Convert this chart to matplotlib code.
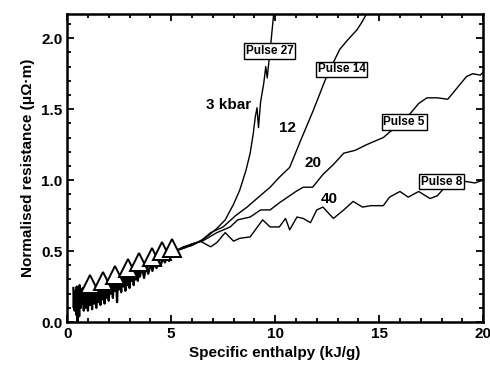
import matplotlib.pyplot as plt
from matplotlib.ticker import MultipleLocator

plt.rcParams['font.family'] = ['Liberation Sans', 'DejaVu Sans']

# low enthalpy, noisy common data (x, y)
noise_pts = [
    (0.30, 0.24), (0.32, 0.10), (0.34, 0.21), (0.36, 0.08), (0.38, 0.22),
    (0.40, 0.12), (0.42, 0.19), (0.44, 0.05), (0.46, 0.25), (0.48, 0.06),
    (0.50, 0.00), (0.52, 0.20), (0.54, 0.09), (0.56, 0.21), (0.58, 0.04),
    (0.60, 0.26), (0.62, 0.11), (0.64, 0.23), (0.66, 0.10), (0.68, 0.21),
    (0.70, 0.13), (0.75, 0.24), (0.80, 0.08), (0.85, 0.23), (0.90, 0.10),
    (0.95, 0.23), (1.00, 0.08), (1.05, 0.22), (1.10, 0.12), (1.15, 0.23),
    (1.20, 0.09), (1.25, 0.24), (1.30, 0.13), (1.35, 0.24), (1.40, 0.10),
    (1.45, 0.25), (1.50, 0.14), (1.55, 0.26), (1.60, 0.12), (1.65, 0.26),
    (1.70, 0.16), (1.75, 0.27), (1.80, 0.13), (1.85, 0.27), (1.90, 0.17),
    (1.95, 0.28), (2.00, 0.15), (2.05, 0.29), (2.10, 0.20), (2.15, 0.29),
    (2.20, 0.17), (2.25, 0.30), (2.30, 0.22), (2.35, 0.31), (2.40, 0.14),
    (2.45, 0.31), (2.50, 0.23), (2.55, 0.32), (2.60, 0.21), (2.65, 0.33),
    (2.70, 0.25), (2.75, 0.33), (2.80, 0.22), (2.85, 0.34), (2.90, 0.26),
    (2.95, 0.35), (3.00, 0.24), (3.05, 0.35), (3.10, 0.29), (3.15, 0.36),
    (3.20, 0.26), (3.25, 0.37), (3.30, 0.30), (3.35, 0.38), (3.40, 0.29),
    (3.45, 0.38), (3.50, 0.32), (3.60, 0.39), (3.70, 0.31), (3.80, 0.40),
    (3.90, 0.34), (4.00, 0.41), (4.10, 0.36), (4.20, 0.42), (4.30, 0.38),
    (4.40, 0.43), (4.50, 0.40), (4.60, 0.45), (4.70, 0.42), (4.80, 0.46),
    (4.90, 0.43), (5.00, 0.47), (5.10, 0.46), (5.20, 0.50),
]
noise_x = [p[0] for p in noise_pts]
noise_y = [p[1] for p in noise_pts]

# open triangles
tri_x = [1.10, 1.73, 2.30, 2.93, 3.47, 4.08, 4.58, 5.05]
tri_y = [0.27, 0.29, 0.33, 0.38, 0.42, 0.46, 0.50, 0.52]

# Pulse 27, 3 kbar
p27_x = [5.2, 5.6, 6.0, 6.4, 6.8, 7.2, 7.6, 8.0, 8.3, 8.6, 8.8, 8.95, 9.05,
         9.13, 9.2, 9.3, 9.45, 9.55, 9.62, 9.66, 9.75, 9.85, 9.95]
p27_y = [0.50, 0.53, 0.55, 0.57, 0.61, 0.66, 0.72, 0.83, 0.93, 1.07, 1.19,
         1.33, 1.45, 1.51, 1.37, 1.55, 1.68, 1.80, 1.72, 1.78, 1.90, 2.05, 2.20]

# Pulse 14, 12 kbar
p14_x = [5.2, 5.6, 6.0, 6.5, 6.9, 7.5, 8.1, 8.65, 9.2, 9.76, 10.2, 10.7,
         11.2, 11.83, 12.5, 13.1, 13.5, 13.94, 14.2, 14.5]
p14_y = [0.50, 0.52, 0.54, 0.58, 0.63, 0.67, 0.75, 0.81, 0.88, 0.95, 1.02,
         1.09, 1.27, 1.49, 1.74, 1.92, 1.99, 2.06, 2.12, 2.20]

# Pulse 5, 20 kbar
p5_x = [5.2, 5.6, 6.0, 6.5, 7.2, 7.84, 8.2, 8.8, 9.3, 9.76, 10.2, 10.6, 11.0,
        11.35, 11.8, 12.3, 12.8, 13.3, 13.85, 14.4, 15.2, 15.6, 16.0, 16.5,
        16.9, 17.3, 17.8, 18.3, 18.75, 19.2, 19.5, 19.86, 20.0]
p5_y = [0.50, 0.52, 0.55, 0.57, 0.63, 0.67, 0.72, 0.74, 0.79, 0.79, 0.84,
        0.88, 0.92, 0.95, 0.95, 1.04, 1.11, 1.19, 1.21, 1.25, 1.30, 1.35,
        1.41, 1.47, 1.54, 1.58, 1.58, 1.57, 1.65, 1.73, 1.75, 1.74, 1.76]

# Pulse 8, 40 kbar
p8_x = [5.2, 5.6, 6.0, 6.4, 6.9, 7.2, 7.6, 8.0, 8.3, 8.8, 9.1, 9.4, 9.76,
        10.2, 10.5, 10.7, 11.05, 11.35, 11.7, 12.0, 12.3, 12.8, 13.3, 13.75,
        14.2, 14.6, 15.2, 15.5, 16.0, 16.4, 16.9, 17.45, 17.8, 18.1, 18.4,
        19.2, 19.6, 20.0]
p8_y = [0.50, 0.53, 0.54, 0.57, 0.53, 0.56, 0.63, 0.57, 0.59, 0.60, 0.66,
        0.72, 0.67, 0.67, 0.73, 0.65, 0.74, 0.73, 0.70, 0.79, 0.81, 0.73,
        0.79, 0.85, 0.81, 0.82, 0.82, 0.88, 0.92, 0.88, 0.92, 0.87, 0.89,
        0.94, 0.99, 0.99, 0.98, 1.00]

fig = plt.figure(figsize=(4.9, 3.71), dpi=100)
ax = fig.add_axes([0.137, 0.132, 0.849, 0.830])

ax.plot(noise_x, noise_y, color='black', lw=1.6)
for xs, ys in [(p27_x, p27_y), (p14_x, p14_y), (p5_x, p5_y), (p8_x, p8_y)]:
    ax.plot(xs, ys, color='black', lw=1.0)
ax.plot(tri_x, tri_y, ls='none', marker='^', ms=13, mfc='white',
        mec='black', mew=1.4)

# pressure labels
ax.text(7.74, 1.53, '3 kbar', fontsize=11, fontweight='bold', ha='center', va='center')
ax.text(10.6, 1.37, '12', fontsize=11, fontweight='bold', ha='center', va='center')
ax.text(11.8, 1.12, '20', fontsize=11, fontweight='bold', ha='center', va='center')
ax.text(12.6, 0.87, '40', fontsize=11, fontweight='bold', ha='center', va='center')

box = dict(boxstyle='square,pad=0.15', fc='white', ec='black', lw=1)
ax.text(9.74, 1.91, 'Pulse 27', fontsize=8.5, fontweight='bold', ha='center', va='center', bbox=box)
ax.text(13.2, 1.78, 'Pulse 14', fontsize=8.5, fontweight='bold', ha='center', va='center', bbox=box)
ax.text(16.2, 1.41, 'Pulse 5', fontsize=8.5, fontweight='bold', ha='center', va='center', bbox=box)
ax.text(18.0, 0.99, 'Pulse 8', fontsize=8.5, fontweight='bold', ha='center', va='center', bbox=box)

ax.set_xlim(0, 20)
ax.set_ylim(0, 2.17)
ax.xaxis.set_major_locator(MultipleLocator(5))
ax.xaxis.set_minor_locator(MultipleLocator(1))
ax.yaxis.set_major_locator(MultipleLocator(0.5))
ax.yaxis.set_minor_locator(MultipleLocator(0.1))
ax.tick_params(which='both', direction='in', top=True, right=True,
               labelsize=11, width=1.3)
ax.tick_params(which='major', length=5)
ax.tick_params(which='minor', length=3)
for lab in ax.get_xticklabels() + ax.get_yticklabels():
    lab.set_fontweight('bold')
for s in ax.spines.values():
    s.set_linewidth(1.8)

ax.set_xlabel('Specific enthalpy (kJ/g)', fontsize=11, fontweight='bold')
ax.set_ylabel('Normalised resistance (μΩ·m)', fontsize=11, fontweight='bold')

fig.savefig('out.png', dpi=100)
